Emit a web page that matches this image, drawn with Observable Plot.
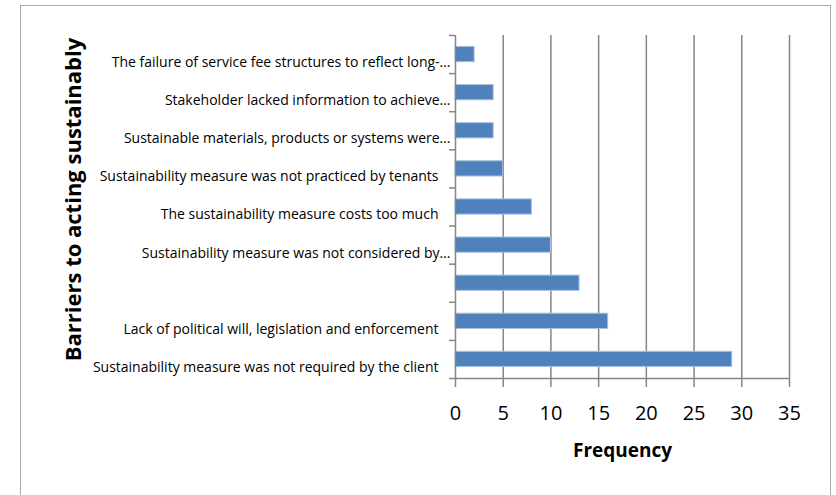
<!DOCTYPE html>
<html>
<head>
<meta charset="utf-8">
<script src="https://cdn.jsdelivr.net/npm/d3@7"></script>
<script src="https://cdn.jsdelivr.net/npm/@observablehq/plot@0.6"></script>
<style>
  html, body { margin: 0; padding: 0; background: #fff; overflow: hidden; }
  #wrap { position: relative; width: 836px; height: 495px; }
  #border { position: absolute; left: 20px; top: 5px; width: 811px; height: 520px;
            border: 1.5px solid #ababab; box-sizing: border-box; }
  #chart { position: absolute; left: 0; top: 0; }
</style>
</head>
<body>
<div id="wrap"><div id="border"></div><div id="chart"></div></div>
<script>
// Categories from top to bottom
const categories = [
  "The failure of service fee structures to reflect long-…",
  "Stakeholder lacked information to achieve…",
  "Sustainable materials, products or systems were…",
  "Sustainability measure was not practiced by tenants",
  "The sustainability measure costs too much",
  "Sustainability measure was not considered by…",
  "",
  "Lack of political will, legislation and enforcement",
  "Sustainability measure was not required by the client"
];
const values = [2, 4, 4, 5, 8, 10, 13, 16, 29];
const xTicks = [0, 5, 10, 15, 20, 25, 30, 35];
const xTitle = "Frequency";
const yTitle = "Barriers to acting sustainably";

const data = categories.map((c, i) => ({label: c, value: values[i], i}));
const boundaries = d3.range(0, categories.length + 1);
const isTrunc = d => d.label.endsWith("…");

const gray = "#868686";

const chart = Plot.plot({
  width: 836,
  height: 495,
  marginLeft: 455,
  marginRight: 47,
  marginTop: 35,
  marginBottom: 117,
  style: {fontFamily: "'Open Sans', Lato, sans-serif", background: "transparent", color: "#000"},
  x: {domain: [0, 35]},
  y: {domain: [0, categories.length], reverse: true},
  marks: [
    Plot.ruleX(xTicks.slice(1), {stroke: gray, strokeWidth: 1.5}),
    Plot.rectX(data, {
      x1: 0, x2: "value",
      y1: d => d.i + 0.3, y2: d => d.i + 0.7,
      fill: "#4F81BD", stroke: "#a8c0de", strokeWidth: 1
    }),
    Plot.ruleX([0], {stroke: gray, strokeWidth: 1.5}),
    Plot.ruleY([categories.length], {stroke: gray, strokeWidth: 1.5}),
    Plot.axisY(boundaries, {tickSize: 6, tickFormat: () => "", stroke: gray, strokeWidth: 1.5, label: null}),
    Plot.axisX(xTicks, {tickSize: 9, tickPadding: 18, fontSize: 20, stroke: gray, strokeWidth: 1.5, label: null, fill: "#000"}),
    Plot.text(data.filter(d => !isTrunc(d)), {
      x: 0, y: d => d.i + 0.5, text: "label", textAnchor: "end",
      dx: -17, dy: 8, fontSize: 14, fill: "#000"
    }),
    Plot.text(data.filter(isTrunc), {
      x: 0, y: d => d.i + 0.5, text: "label", textAnchor: "end",
      dx: -5, dy: 8, fontSize: 14, fill: "#000"
    }),
    Plot.text([yTitle], {
      frameAnchor: "left", text: d => d, rotate: -90, textAnchor: "middle", lineAnchor: "middle",
      dx: -382, dy: -7.5, fontSize: 22, fontWeight: "bold", fill: "#000"
    }),
    Plot.text([xTitle], {
      frameAnchor: "bottom", text: d => d, textAnchor: "middle", lineAnchor: "middle",
      dx: 0, dy: 72, fontSize: 19, fontWeight: "bold", fill: "#000"
    })
  ]
});
document.getElementById("chart").appendChild(chart);
</script>
</body>
</html>
